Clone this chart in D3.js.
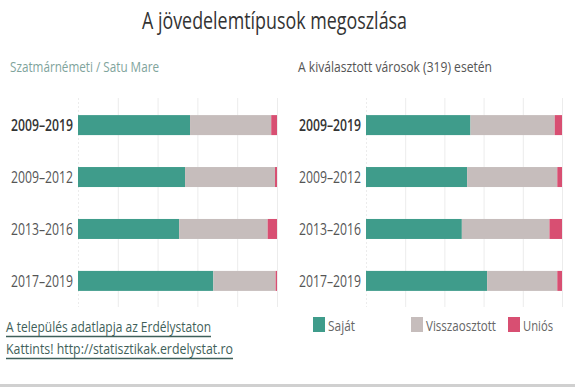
<!DOCTYPE html>
<html><head><meta charset="utf-8">
<script src="https://cdn.jsdelivr.net/npm/d3@7"></script>
<style>
html,body{margin:0;padding:0;background:#fff;}
svg{display:block;font-family:"Open Sans","Noto Sans",sans-serif;}
</style></head>
<body><svg id="c" width="575" height="387"></svg>
<script>
const categories = ["2009–2019","2009–2012","2013–2016","2017–2019"];
const seriesNames = ["Saját","Visszaosztott","Uniós"];
const colors = ["#3f9c8b","#c6bdbc","#d84f72"];
// Szatmárnémeti / Satu Mare (shares)
const localSajat = [0.563,0.538,0.508,0.680];
const localViss  = [0.408,0.452,0.445,0.313];
const localUnios = [0.029,0.010,0.047,0.007];
// A kiválasztott városok (319)
const allSajat = [0.533,0.516,0.489,0.618];
const allViss  = [0.430,0.460,0.447,0.358];
const allUnios = [0.037,0.024,0.064,0.024];
const gridTicks = [0,0.2,0.4,0.6,0.8,1];

const svg = d3.select("#c");
function fitText(sel, w){ sel.attr("textLength", w).attr("lengthAdjust","spacingAndGlyphs"); return sel; }

fitText(svg.append("text").attr("x",142).attr("y",29).attr("font-size",23).attr("fill","#333")
  .text("A jövedelemtípusok megoszlása"), 265);

fitText(svg.append("text").attr("x",10).attr("y",72).attr("font-size",15).attr("fill","#7fa49c")
  .text("Szatmárnémeti / Satu Mare"), 149);
fitText(svg.append("text").attr("x",298).attr("y",72).attr("font-size",15).attr("fill","#555")
  .text("A kiválasztott városok (319) esetén"), 194);

const y = d3.scaleBand().domain(categories).range([99,307]).paddingInner(0.615).paddingOuter(0.31);

function panel(x0, x1, labelRight, s, v, u){
  const x = d3.scaleLinear().domain([0,1]).range([x0,x1]);
  const g = svg.append("g");
  g.selectAll("line.grid").data(gridTicks).join("line")
    .attr("x1",d=>x(d)+0.5).attr("x2",d=>x(d)+0.5).attr("y1",98).attr("y2",307)
    .attr("stroke","#ececec").attr("stroke-width",1)
    .attr("stroke-dasharray",(d,i)=>i===0?"2,2":null);
  const rows = categories.map((c,i)=>({c, vals:[s[i],v[i],u[i]]}));
  rows.forEach(r=>{
    let acc=0;
    r.vals.forEach((val,k)=>{
      g.append("rect").attr("x",x(acc)).attr("width",x(acc+val)-x(acc))
        .attr("y",y(r.c)).attr("height",y.bandwidth()).attr("fill",colors[k]);
      acc+=val;
    });
  });
  g.selectAll("text.lab").data(categories).join("text")
    .attr("x",labelRight).attr("y",d=>y(d)+y.bandwidth()/2+6)
    .attr("text-anchor","end").attr("font-size",16.5)
    .attr("font-weight",(d,i)=>i===0?"600":"normal")
    .attr("fill",(d,i)=>i===0?"#333":"#555")
    .text(d=>d)
    .attr("textLength",62).attr("lengthAdjust","spacingAndGlyphs");
}
panel(78,277,73,localSajat,localViss,localUnios);
panel(366,562,361,allSajat,allViss,allUnios);

// footer links
const links = [{t:"A település adatlapja az Erdélystaton",y:332,w:205},{t:"Kattints! http://statisztikak.erdelystat.ro",y:354,w:227}];
links.forEach(l=>{
  fitText(svg.append("text").attr("x",6).attr("y",l.y).attr("font-size",15).attr("fill","#3f5f5a").text(l.t), l.w);
  svg.append("line").attr("x1",6).attr("x2",6+l.w).attr("y1",l.y+4.5).attr("y2",l.y+4.5)
    .attr("stroke","#3f5f5a").attr("stroke-width",1.4);
});

// legend
const legX = [313,411,508];
const legW = [27,70,30];
seriesNames.forEach((n,i)=>{
  svg.append("rect").attr("x",legX[i]).attr("y",317).attr("width",12).attr("height",15).attr("fill",colors[i]);
  fitText(svg.append("text").attr("x",legX[i]+15).attr("y",331).attr("font-size",15).attr("fill","#666").text(n), legW[i]);
});

svg.append("rect").attr("x",0).attr("y",384).attr("width",575).attr("height",3).attr("fill","#d0d0d0");
</script></body></html>
